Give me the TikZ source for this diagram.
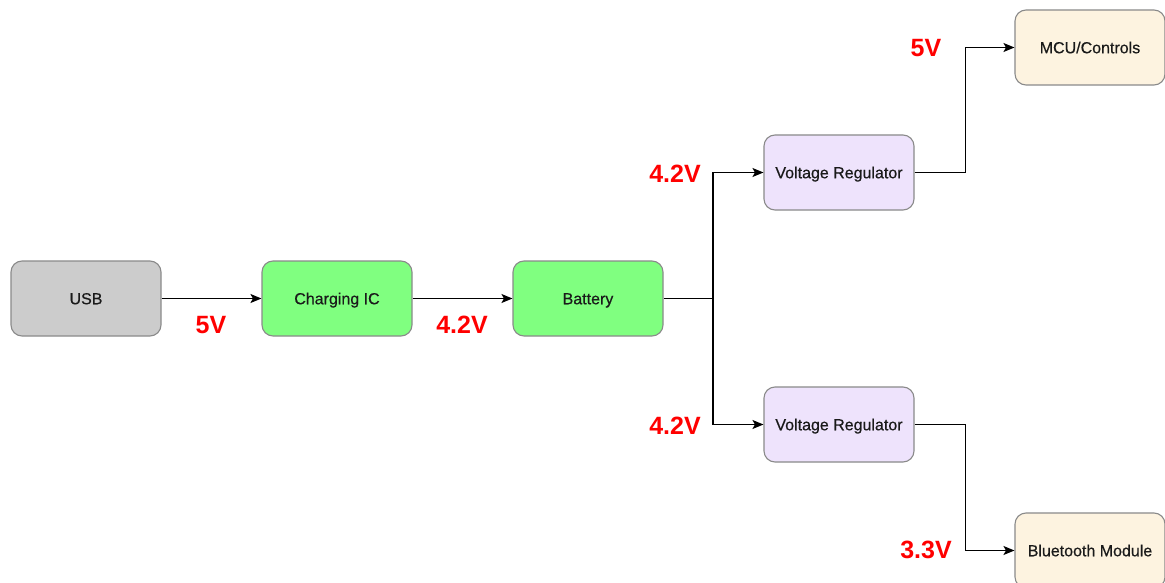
\documentclass[tikz,border=0pt]{standalone}
\usepackage{fontspec}
\setmainfont{Liberation Sans}
\newfontfamily\boxfont[FakeBold=0.45]{Liberation Sans}
\usetikzlibrary{arrows.meta}
\definecolor{usbfill}{HTML}{CCCCCC}
\definecolor{greenfill}{HTML}{80FF80}
\definecolor{purplefill}{HTML}{EEE3FC}
\definecolor{creamfill}{HTML}{FDF3E0}
\definecolor{boxline}{HTML}{8A8A8A}
\definecolor{txt}{HTML}{1A1A1A}
\definecolor{vred}{HTML}{FF0000}
\tikzset{
  blk/.style={draw=boxline, line width=1.1pt, rounded corners=11pt,
    minimum width=150pt, minimum height=75pt, inner sep=0pt,
    text height=11.5pt, text depth=0pt,
    text=txt, font=\boxfont\fontsize{16}{19}\selectfont},
  vlab/.style={text=vred, font=\bfseries\fontsize{25}{30}\selectfont, inner sep=0pt},
  conn/.style={line width=1.2pt, black, -{Stealth[length=11pt,width=9pt,inset=2.5pt]}}
}
\begin{document}
\begin{tikzpicture}[x=1pt,y=-1pt]
\path[use as bounding box, fill=white] (0,0) rectangle (1165,583);
\node[blk, fill=usbfill] (usb) at (86,298.5) {USB};
\node[blk, fill=greenfill] (chg) at (337,298.5) {Charging IC};
\node[blk, fill=greenfill] (bat) at (588,298.5) {Battery};
\node[blk, fill=purplefill] (vr1) at (839,172.5) {Voltage Regulator};
\node[blk, fill=purplefill] (vr2) at (839,424.5) {Voltage Regulator};
\node[blk, fill=creamfill] (mcu) at (1090,47.5) {MCU/Controls};
\node[blk, fill=creamfill] (bt) at (1090,550.5) {Bluetooth Module};
\coordinate (split) at (713,298.5);
\draw[conn] (usb) -- (chg);
\draw[conn] (chg) -- (bat);
\draw[line width=1.2pt] (bat.east) -- (split);
\draw[conn] (split) |- (vr1.west);
\draw[conn] (split) |- (vr2.west);
\draw[conn] (vr1.east) -- ++(51,0) |- (mcu.west);
\draw[conn] (vr2.east) -- ++(51,0) |- (bt.west);
\node[vlab] (l1) at (211,325) {5V};
\node[vlab] (l2) at (462,325) {4.2V};
\node[vlab] (l3) at (675,174) {4.2V};
\node[vlab] (l4) at (675,426) {4.2V};
\node[vlab] (l5) at (926,48) {5V};
\node[vlab] (l6) at (926,550) {3.3V};
\end{tikzpicture}
\end{document}
